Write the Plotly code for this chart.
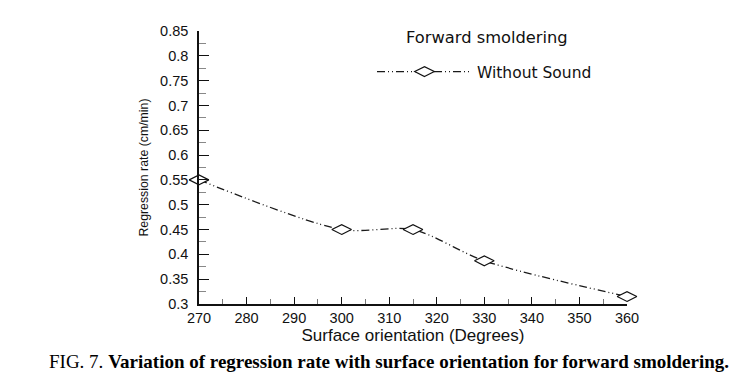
import plotly.graph_objects as go

orientation = [270, 300, 315, 330, 360]
regression_rate = [0.55, 0.45, 0.45, 0.387, 0.315]
series_name = "Without Sound"
y_ticks = [0.3, 0.35, 0.4, 0.45, 0.5, 0.55, 0.6, 0.65, 0.7, 0.75, 0.8, 0.85]
y_tick_labels = ["0.3", "0.35", "0.4", "0.45", "0.5", "0.55", "0.6", "0.65", "0.7", "0.75", "0.8", "0.85"]
x_ticks = [270, 280, 290, 300, 310, 320, 330, 340, 350, 360]

# page body has an 8px default margin; compensate so the plot area lands where the reference has it
OFF = 8
L, T, R, B = 199, 31, 627, 304  # plot area in window pixels (reference)

fig = go.Figure()
fig.add_trace(go.Scatter(
    x=orientation, y=regression_rate, name=series_name,
    mode="lines+markers",
    line=dict(color="#1a1a1a", width=1.3, shape="spline", smoothing=0.8, dash="8px,3px,1px,3px,1px,3px"),
    marker=dict(symbol="diamond-wide", size=14, color="white", line=dict(width=1.2, color="#111")),
    cliponaxis=False,
))

tick_font = dict(family="Liberation Sans, Arial", size=14.5, color="#111")
fig.update_xaxes(
    range=[270, 360], tickvals=x_ticks, ticks="inside", ticklen=7, tickcolor="#111",
    showline=True, linecolor="#111", linewidth=1.5, showgrid=False, zeroline=False,
    minor=dict(dtick=5, tick0=270, ticks="inside", ticklen=5, tickcolor="#777"),
    tickfont=tick_font,
    title=dict(text="Surface orientation (Degrees)", font=dict(family="Liberation Sans, Arial", size=17, color="#111"), standoff=0),
)
fig.update_yaxes(
    range=[0.3, 0.85], tickvals=y_ticks, ticktext=y_tick_labels, ticks="inside", ticklen=10, tickcolor="#111",
    showline=True, linecolor="#111", linewidth=1.5, showgrid=False, zeroline=False,
    minor=dict(dtick=0.025, tick0=0.3, ticks="inside", ticklen=7, tickcolor="#888"),
    tickfont=tick_font, ticklabelstandoff=6,
    title=dict(text="Regression rate (cm/min)",
               font=dict(family="Liberation Sans, Arial", size=12.3, color="#111"),
               standoff=9),
)

W, H = 746, 385
pw, ph = R - L, B - T

def px(x):
    return (x - L) / pw

def py(y):
    return (B - y) / ph

fig.update_layout(
    width=W, height=H,
    margin=dict(l=L - OFF, r=W - R + OFF, t=T - OFF, b=H - B + OFF, autoexpand=False),
    paper_bgcolor="white", plot_bgcolor="white",
    showlegend=True,
    legend=dict(x=px(372), y=py(72), xanchor="left", yanchor="middle", bgcolor="rgba(0,0,0,0)",
                font=dict(family="DejaVu Sans", size=15.5, color="#111"), itemwidth=95),
    annotations=[
        dict(text="Forward smoldering", x=px(487), y=py(37), xref="paper", yref="paper",
             showarrow=False, xanchor="center", yanchor="middle",
             font=dict(family="DejaVu Sans", size=16.3, color="#111")),
        dict(text="FIG. 7. <b>Variation of regression rate with surface orientation for forward smoldering.</b>",
             x=px(389), y=py(361), xref="paper", yref="paper", showarrow=False,
             xanchor="center", yanchor="middle",
             font=dict(family="Liberation Serif, Times New Roman", size=19, color="#000")),
    ],
)

fig.write_html("out.html")
